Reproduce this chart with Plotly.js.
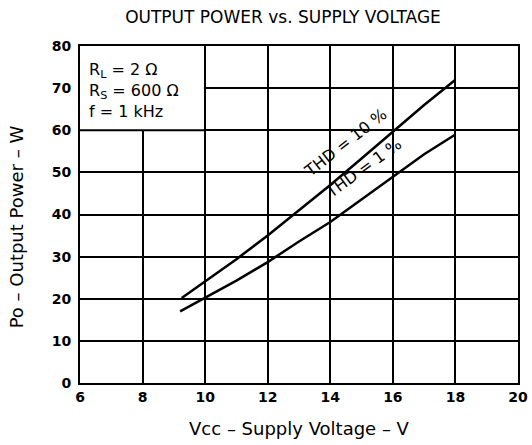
<!DOCTYPE html>
<html><head><meta charset="utf-8">
<script src="https://cdn.plot.ly/plotly-3.0.1.min.js"></script>
<style>html,body{margin:0;padding:0;background:#fff}#c{width:532px;height:445px}</style>
</head><body><div id="c"></div>
<script>
const vccThd10 = [9.25, 9.5, 10, 11, 12, 13, 14, 15, 16, 17, 18];
const poThd10  = [20.2, 21.5, 24, 29.4, 35, 41, 47, 53.3, 59.6, 66, 72];
const vccThd1  = [9.2, 10, 11, 12, 13, 14, 15, 16, 17, 18];
const poThd1   = [17, 20.2, 24.3, 28.7, 33.6, 38.2, 43.5, 48.9, 54.3, 59];
const xTicks = [6, 8, 10, 12, 14, 16, 18, 20];
const yTicks = [0, 10, 20, 30, 40, 50, 60, 70, 80];
const seriesNames = ['THD = 10 %', 'THD = 1 %'];
const conditions = ['R<sub>L</sub> = 2 Ω', 'R<sub>S</sub> = 600 Ω', 'f = 1 kHz'];
const yTitle = 'Po – Output Power – W';

const font = 'DejaVu Sans, Arial, sans-serif';
const traces = [
  {x: vccThd10, y: poThd10, mode: 'lines', name: seriesNames[0], line: {color: '#000', width: 2.5}},
  {x: vccThd1, y: poThd1, mode: 'lines', name: seriesNames[1], line: {color: '#000', width: 2.5}}
];
const axisCommon = {
  showgrid: true, gridcolor: '#000', gridwidth: 2,
  showline: true, linecolor: '#000', linewidth: 2, mirror: true,
  ticks: '', zeroline: false,
  tickfont: {family: font, size: 14, color: '#000', weight: 'bold'}
};
const layout = {
  width: 532, height: 445,
  margin: {l: 80, r: 14, t: 46, b: 62},
  paper_bgcolor: '#fff', plot_bgcolor: '#fff',
  showlegend: false,
  title: {text: 'OUTPUT POWER vs. SUPPLY VOLTAGE', x: 0.532, xanchor: 'center', y: 0.962, yanchor: 'middle',
          font: {family: font, size: 17, color: '#000'}},
  xaxis: Object.assign({}, axisCommon, {range: [6, 20], tickvals: xTicks, ticktext: xTicks.map(String),
          title: {text: 'Vcc – Supply Voltage – V', standoff: 19, font: {family: font, size: 18, color: '#000'}}}),
  yaxis: Object.assign({}, axisCommon, {range: [0, 80], tickvals: yTicks, ticktext: yTicks.map(String),
          ticklabelstandoff: 4}),
  shapes: [
    {type: 'rect', xref: 'x', yref: 'y', x0: 6, x1: 9.96, y0: 60, y1: 80, layer: 'between',
     fillcolor: '#fff', line: {width: 0}},
    {type: 'line', xref: 'x', yref: 'y', x0: 6, x1: 10, y0: 60, y1: 60, layer: 'between', line: {color: '#000', width: 2}}
  ],
  annotations: [
    {xref: 'paper', yref: 'paper', x: -0.146, y: 0.462, xanchor: 'center', yanchor: 'middle', showarrow: false,
     textangle: -90, text: yTitle, font: {family: font, size: 18, color: '#000'}},
    {xref: 'x', yref: 'y', x: 6.22, y: 77.2, xanchor: 'left', yanchor: 'top', align: 'left', showarrow: false,
     text: conditions.join('<br>'), font: {family: font, size: 16, color: '#000'}},
    {xref: 'x', yref: 'y', x: 14.5, y: 57.0, showarrow: false, textangle: -38,
     text: seriesNames[0], font: {family: font, size: 16, color: '#000'}},
    {xref: 'x', yref: 'y', x: 15.05, y: 50.9, showarrow: false, textangle: -36,
     text: seriesNames[1], font: {family: font, size: 16, color: '#000'}}
  ]
};
Plotly.newPlot('c', traces, layout, {displayModeBar: false, staticPlot: true});
</script></body></html>
